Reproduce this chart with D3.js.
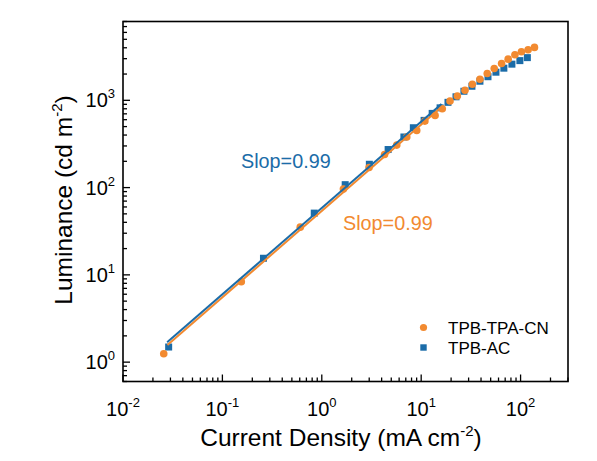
<!DOCTYPE html>
<html><head><meta charset="utf-8">
<script src="https://cdn.jsdelivr.net/npm/d3@7"></script>
<style>body{margin:0;background:#fff;} text{font-family:Arial,"Liberation Sans",sans-serif;}</style>
</head><body><svg id="c" width="597" height="461"></svg>
<script>
// TPB-TPA-CN (orange circles): current density (mA cm-2), luminance (cd m-2)
const cnJ = [0.0257,0.155,0.607,1.65,2.99,4.28,5.68,7.16,9.02,10.9,13.8,16.3,19.5,23.1,27.6,32.7,39.0,46.2,54.3,64.4,75.0,87.7,102,119,138];
const cnL = [1.25,8.33,35.2,96.4,170,239,307,380,452,578,672,802,982,1120,1303,1528,1745,2029,2316,2643,2964,3321,3596,3793,4040];
// TPB-AC (blue squares)
const acJ = [0.0288,0.259,0.840,1.72,3.01,4.65,6.70,8.34,10.7,12.9,15.5,18.6,22.4,26.9,32.4,39.0,47.0,56.5,67.9,81.8,98.4,117];
const acL = [1.49,15.5,51.0,108,185,273,380,485,589,708,820,948,1097,1270,1449,1655,1864,2100,2335,2596,2850,3084];
// linear fits (log-log), endpoints
const fitCNJ = [0.028,16], fitCNL = [1.57,840];
const fitACJ = [0.0278,16], fitACL = [1.685,910];
const xTicks = [0.01,0.1,1,10,100], xTickExp = ["-2","-1","0","1","2"];
const yTicks = [1,10,100,1000], yTickExp = ["0","1","2","3"];
const seriesNames = ["TPB-TPA-CN","TPB-AC"];
const slopeLabels = ["Slop=0.99","Slop=0.99"];

const orange = "#F28A30", blue = "#1B6CA8";
const L = 123, R = 568, T = 21.5, B = 381.5;
const svg = d3.select("#c");
svg.append("rect").attr("width",597).attr("height",461).attr("fill","#fff");
const x = d3.scaleLog().domain([0.01,300]).range([L,R]);
const y = d3.scaleLog().domain([0.6,8000]).range([B,T]);
const isMajor = v => Math.abs(Math.log10(v) - Math.round(Math.log10(v))) < 1e-9;

// ticks (inward)
const g = svg.append("g").attr("stroke","#000").attr("stroke-width",1.3);
x.ticks().filter(v=>v>=0.01&&v<=300).forEach(v=>{
  const len = isMajor(v)?7:4;
  g.append("line").attr("x1",x(v)).attr("x2",x(v)).attr("y1",B).attr("y2",B-len);
});
y.ticks().filter(v=>v>=0.6&&v<=8000).forEach(v=>{
  const len = isMajor(v)?7:4;
  g.append("line").attr("x1",L).attr("x2",L+len).attr("y1",y(v)).attr("y2",y(v));
});
// frame
svg.append("rect").attr("x",L).attr("y",T).attr("width",R-L).attr("height",B-T)
  .attr("fill","none").attr("stroke","#000").attr("stroke-width",1.6);

// tick labels
xTicks.forEach((v,i)=>{
  const t = svg.append("text").attr("x",x(v)).attr("y",416).attr("text-anchor","middle").attr("font-size",20);
  t.append("tspan").text("10");
  t.append("tspan").attr("dy",-9).attr("font-size",13).text(xTickExp[i]);
});
yTicks.forEach((v,i)=>{
  const t = svg.append("text").attr("x",115).attr("y",y(v)+7).attr("text-anchor","end").attr("font-size",20);
  t.append("tspan").text("10");
  t.append("tspan").attr("dy",-9).attr("font-size",13).text(yTickExp[i]);
});
// axis titles
const xt = svg.append("text").attr("x",341).attr("y",446).attr("text-anchor","middle").attr("font-size",24.5);
xt.append("tspan").text("Current Density (mA cm");
xt.append("tspan").attr("dy",-10).attr("font-size",15).text("-2");
xt.append("tspan").attr("dy",10).text(")");
const yt = svg.append("text").attr("transform","translate(72,200) rotate(-90)").attr("text-anchor","middle").attr("font-size",24.5);
yt.append("tspan").text("Luminance (cd m");
yt.append("tspan").attr("dy",-10).attr("font-size",15).text("-2");
yt.append("tspan").attr("dy",10).text(")");

// markers
const acData = acJ.map((j,i)=>[j,acL[i]]);
const cnData = cnJ.map((j,i)=>[j,cnL[i]]);
svg.append("g").selectAll("rect").data(acData).join("rect")
  .attr("x",d=>x(d[0])-3.5).attr("y",d=>y(d[1])-3.5).attr("width",7).attr("height",7).attr("fill",blue);
svg.append("g").selectAll("circle").data(cnData).join("circle")
  .attr("cx",d=>x(d[0])).attr("cy",d=>y(d[1])).attr("r",3.8).attr("fill",orange);

// fit lines
const line = d3.line().x(d=>x(d[0])).y(d=>y(d[1]));
svg.append("path").attr("d",line(fitCNJ.map((j,i)=>[j,fitCNL[i]]))).attr("stroke",orange).attr("stroke-width",2).attr("fill","none");
svg.append("path").attr("d",line(fitACJ.map((j,i)=>[j,fitACL[i]]))).attr("stroke",blue).attr("stroke-width",2).attr("fill","none");

// slope labels
svg.append("text").attr("x",241).attr("y",168).attr("font-size",19.8).attr("fill",blue).text(slopeLabels[1]);
svg.append("text").attr("x",343).attr("y",230).attr("font-size",19.8).attr("fill",orange).text(slopeLabels[0]);

// legend
svg.append("circle").attr("cx",423.5).attr("cy",327.5).attr("r",3.6).attr("fill",orange);
svg.append("rect").attr("x",420.3).attr("y",344.3).attr("width",6.4).attr("height",6.4).attr("fill",blue);
svg.append("text").attr("x",448).attr("y",333.5).attr("font-size",17).text(seriesNames[0]);
svg.append("text").attr("x",448).attr("y",353.5).attr("font-size",17).text(seriesNames[1]);
</script>
</body></html>
